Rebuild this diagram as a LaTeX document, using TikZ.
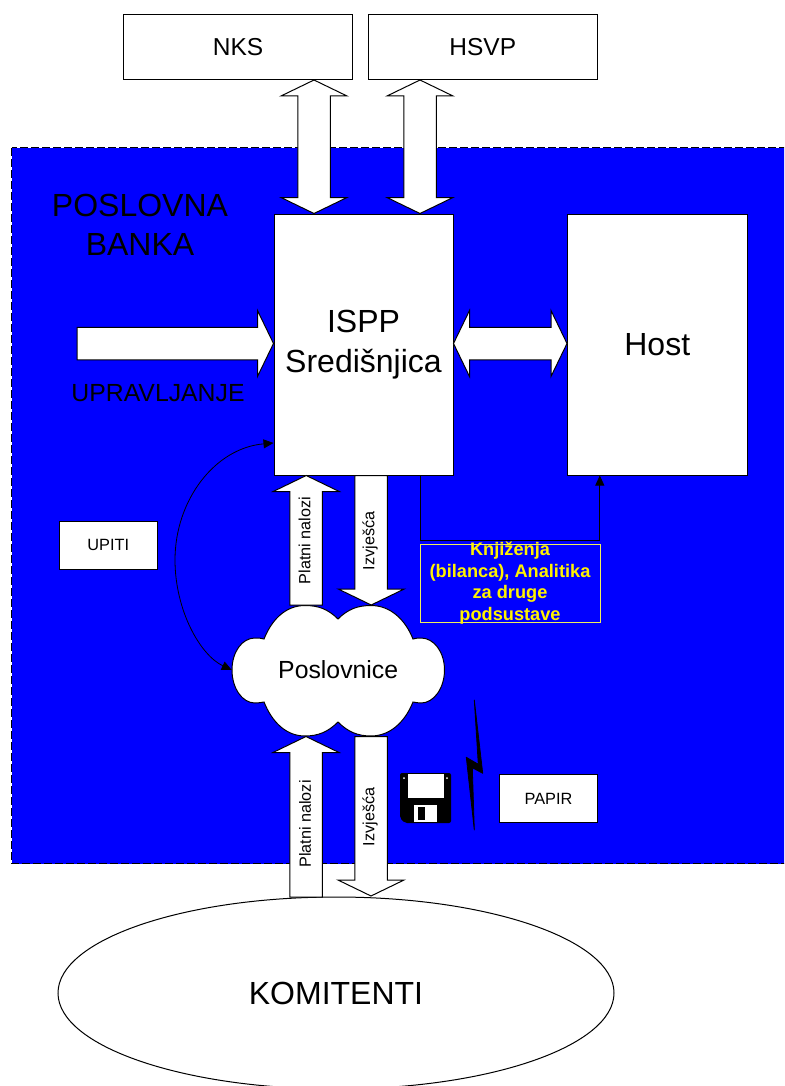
\documentclass[tikz,border=0pt]{standalone}
\usepackage{fontspec}
\setmainfont{Liberation Sans}
\usetikzlibrary{calc,arrows.meta,shapes.geometric}
\newcommand{\fs}[2]{\fontsize{#1}{#2}\selectfont}
\tikzset{
  whitebox/.style={draw=black,line width=1pt,fill=white,inner sep=0pt,align=center},
  fat/.style={draw=black,line width=1pt,fill=white,line join=miter,miter limit=20},
  conn/.style={draw=black,line width=0.8pt},
  >={Triangle[length=10pt,width=9pt]},
  lbl/.style={inner sep=0pt,align=center,text=black},
}
% single wide arrow: tail, tip
\newcommand{\fatarrow}[2]{%
  \coordinate (hh) at ($(#2)!16pt!(#1)$);
  \draw[fat] ($(#1)!16.25pt!90:(#2)$) -- ($(hh)!16.25pt!90:(#2)$) -- ($(hh)!33pt!90:(#2)$) -- (#2)
    -- ($(hh)!33pt!-90:(#2)$) -- ($(hh)!16.25pt!-90:(#2)$) -- ($(#1)!16.25pt!-90:(#2)$) -- cycle;}
% double wide arrow: tip, tip
\newcommand{\fatdouble}[2]{%
  \coordinate (hh) at ($(#2)!16pt!(#1)$);
  \coordinate (kk) at ($(#1)!16pt!(#2)$);
  \draw[fat] (#1) -- ($(kk)!33pt!-90:(#2)$) -- ($(kk)!16.25pt!-90:(#2)$) -- ($(hh)!16.25pt!-90:(#2)$)
    -- ($(hh)!33pt!-90:(#2)$) -- (#2) -- ($(hh)!33pt!90:(#2)$) -- ($(hh)!16.25pt!90:(#2)$)
    -- ($(kk)!16.25pt!90:(#2)$) -- ($(kk)!33pt!90:(#2)$) -- cycle;}
\begin{document}
\begin{tikzpicture}[x=1pt,y=-1pt]
\clip (0,0) rectangle (784,1086);
\useasboundingbox (0,0) rectangle (784,1086);
\fill[white] (0,0) rectangle (784,1086);
% bank area
\draw[fill={rgb,255:red,0;green,0;blue,255},draw=black,line width=1pt,dash pattern=on 8pt off 3pt]
  (11.5,148) rectangle (800,863.5);
% boxes
\node[whitebox,font=\fs{24.5}{28},minimum width=229pt,minimum height=65pt,anchor=north west] (nks) at (123,14) {NKS};
\node[whitebox,font=\fs{24.5}{28},minimum width=228.5pt,minimum height=65pt,anchor=north west] (hsvp) at (368,14) {HSVP};
\node[whitebox,font=\fs{32}{40},minimum width=179pt,minimum height=261pt,anchor=north west] (ispp) at (273.5,213.5) {ISPP\\Središnjica};
\node[whitebox,font=\fs{32}{37},minimum width=179.5pt,minimum height=261pt,anchor=north west] (host) at (567,213.5) {Host};
\node[whitebox,font=\fs{16.3}{19},minimum width=97.5pt,minimum height=48.5pt,anchor=north west] (upiti) at (59,520.5) {UPITI};
\node[whitebox,font=\fs{16.3}{19},minimum width=98pt,minimum height=48pt,anchor=north west] (papir) at (499,774) {PAPIR};
\node[lbl,font=\fs{32}{39},anchor=center] (bankname) at (140,225) {POSLOVNA\\BANKA};
\node[lbl,font=\fs{24.8}{28},anchor=center] (upr) at (158,393) {UPRAVLJANJE};
% clients
\node[whitebox,font=\fs{32}{37},shape=ellipse,minimum width=556pt,minimum height=192pt] (kom) at (336,993) {KOMITENTI};
% cloud
\draw[fill=white,draw=black,line width=1pt]
  (338,619) .. controls (348,609) and (358,605.5) .. (371,605.5)
  .. controls (390,605.5) and (405,619) .. (413,639)
  .. controls (416,638) and (418.5,638) .. (421,638)
  .. controls (434,638) and (444.5,652) .. (444.5,670)
  .. controls (444.5,688) and (434,703) .. (421,703)
  .. controls (418.5,703) and (416,702.5) .. (413,702)
  .. controls (405,722) and (390,736) .. (371,736)
  .. controls (358,736) and (348,732) .. (338,722)
  .. controls (328,732) and (318,736) .. (305,736)
  .. controls (286,736) and (272,722) .. (264,702)
  .. controls (261,702.5) and (258.5,703) .. (255,703)
  .. controls (242,703) and (232,688) .. (232,670)
  .. controls (232,652) and (242,638) .. (255,638)
  .. controls (258.5,638) and (261,638) .. (264,639)
  .. controls (272,619) and (286,605.5) .. (305,605.5)
  .. controls (318,605.5) and (328,609) .. (338,619) -- cycle;
\node[lbl,font=\fs{24.8}{28},minimum width=212.5pt,minimum height=131pt] (pos) at (338.2,670) {Poslovnice};
% accounting box
\node[draw={rgb,255:red,240;green,240;blue,90},line width=1pt,minimum width=180pt,minimum height=78.5pt,inner sep=0pt,anchor=north west] (knj) at (420,543.8) {};
\node[inner sep=0pt,align=center,text=yellow,font=\bfseries\fs{18.2}{21.7}] (knjt) at (510,583) {Knjiženja\\(bilanca), Analitika\\za druge\\podsustave};
% anchors for wide arrows
\coordinate (a1) at (314,0 |- nks.south);
\coordinate (a2) at (314,0 |- ispp.north);
\coordinate (b1) at (420,0 |- hsvp.south);
\coordinate (b2) at (420,0 |- ispp.north);
\coordinate (c0) at (77,343.5);
\coordinate (c1) at (ispp.west |- c0);
\coordinate (d1) at (ispp.east |- c0);
\coordinate (d2) at (host.west |- c0);
\coordinate (e1) at (306.2,605);
\coordinate (e2) at (306.2,0 |- ispp.south);
\coordinate (f1) at (371.2,0 |- ispp.south);
\coordinate (f2) at (371.2,605);
\coordinate (g1) at (306,897);
\coordinate (g2) at (306,736.5);
\coordinate (h1) at (371,736.5);
\coordinate (h2) at (371,896);
\fatdouble{a1}{a2}
\fatdouble{b1}{b2}
\fatarrow{c0}{c1}
\fatdouble{d1}{d2}
\fatarrow{e1}{e2}
\fatarrow{f1}{f2}
\fatarrow{g1}{g2}
\fatarrow{h1}{h2}
% arrow labels
\node[lbl,font=\fs{16.2}{19},rotate=90] (pn1) at (304.5,540.5) {Platni nalozi};
\node[lbl,font=\fs{16.2}{19},rotate=90] (iz1) at (370,541) {Izvješća};
\node[lbl,font=\fs{16.2}{19},rotate=90] (pn2) at (305,824) {Platni nalozi};
\node[lbl,font=\fs{16.2}{19},rotate=90] (iz2) at (370,817) {Izvješća};
% thin connectors
\coordinate (p1) at (420.5,0 |- ispp.south);
\coordinate (p2) at (599.8,0 |- host.south);
\coordinate (pm) at (0,540);
\draw[conn,->] (p1) -- (p1 |- pm) -- (p2 |- pm) -- (p2);
\coordinate (q1) at (ispp.west |- 0,443);
\draw[conn,<->] (pos.west) .. controls (200,655) and (175,610) .. (175,560)
  .. controls (175,500) and (215,448) .. (q1);
% floppy
\fill[black,rounded corners=2pt] (400,773) -- (451,773) -- (451,823) -- (405,823) -- (400,818) -- cycle;
\fill[white] (407.5,774) rectangle (444,798);
\fill[white] (413.5,804.5) rectangle (437,822);
\fill[black] (417.5,806.5) rectangle (425,820);
\fill[white] (404,778) circle (1pt) (447,778) circle (1pt);
% lightning
\draw[fill=black,draw=black,line width=0.8pt,line join=round] (474.3,700) -- (482.7,773.3) -- (472.3,767.7) -- (474.3,830) -- (466.3,757.3) -- (478.3,764.3) -- cycle;
\end{tikzpicture}
\end{document}
